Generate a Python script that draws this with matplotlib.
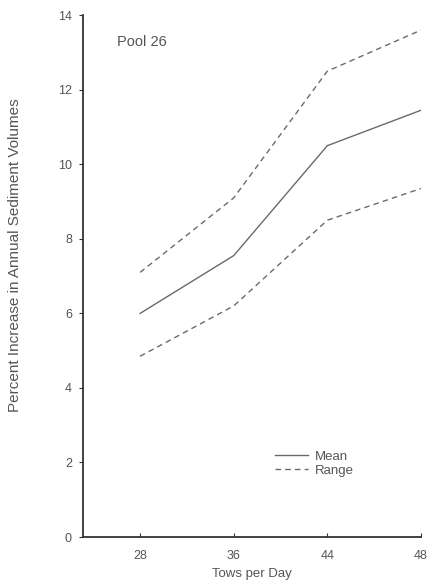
from matplotlib import pyplot as plt
import numpy as np

# data
tows = ["28", "36", "44", "48"]
mean_vals = [6.0, 7.55, 10.5, 11.45]
range_hi = [7.1, 9.1, 12.5, 13.6]
range_lo = [4.85, 6.2, 8.5, 9.35]

plt.rcParams['font.family'] = ['Liberation Sans', 'DejaVu Sans']
grey = "#555555"
linegrey = "#6a6a6a"

fig = plt.figure(figsize=(4.3, 5.85), dpi=100)
ax = fig.add_axes([0.193, 0.082, 0.786, 0.892])

x = np.arange(len(tows))
ax.plot(x, mean_vals, color=linegrey, lw=1.0, label="Mean")
ax.plot(x, range_hi, color=linegrey, lw=1.0, ls=(0, (4, 3)), label="Range")
ax.plot(x, range_lo, color=linegrey, lw=1.0, ls=(0, (4, 3)))

ax.set_xlim(-0.61, 3)
ax.set_ylim(0, 14)
ax.set_xticks(x)
ax.set_xticklabels(tows)
ax.set_yticks(range(0, 15, 2))

for s in ["top", "right"]:
    ax.spines[s].set_visible(False)
for s in ["left", "bottom"]:
    ax.spines[s].set_color("#333333")
    ax.spines[s].set_linewidth(1.3)

ax.tick_params(axis="y", direction="out", length=3, colors="#333333",
               labelcolor=grey, labelsize=9, pad=5)
ax.tick_params(axis="x", direction="in", length=3, colors="#333333",
               labelcolor=grey, labelsize=9, pad=9)

ax.set_xlabel("Tows per Day", color=grey, fontsize=9.5, labelpad=5)
ax.set_ylabel("Percent Increase in Annual Sediment Volumes", color=grey,
              fontsize=11)
ax.yaxis.set_label_coords(-0.20, 0.54)
ax.yaxis.label.set_verticalalignment("center")

ax.text(0.1, 0.948, "Pool 26", transform=ax.transAxes, color=grey,
        fontsize=10.5, va="center")

leg = ax.legend(loc="upper left", bbox_to_anchor=(0.55, 0.178), frameon=False,
                fontsize=9.5, handlelength=2.5, handletextpad=0.45,
                labelspacing=0.1, borderpad=0)
for t in leg.get_texts():
    t.set_color(grey)

fig.savefig("out.png", dpi=100)
